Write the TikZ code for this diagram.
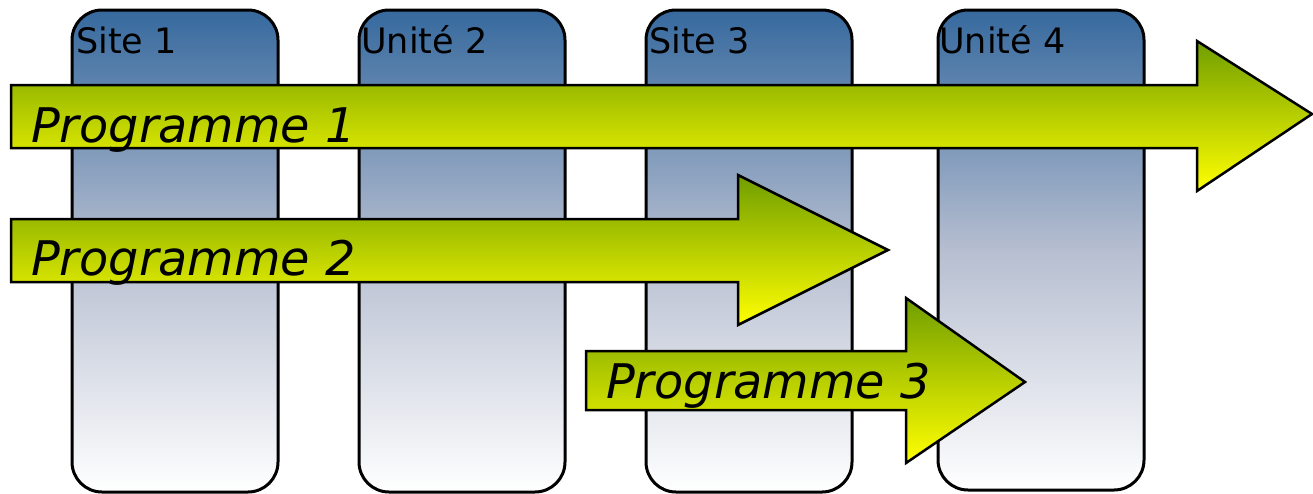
\documentclass[tikz,border=0pt]{standalone}
\usepackage{fontspec}
\setmainfont{DejaVu Sans}
\definecolor{colTop}{RGB}{54,105,158}
\definecolor{colMid}{RGB}{182,190,208}
\definecolor{arrTop}{RGB}{112,158,0}
\definecolor{arrBot}{RGB}{255,255,0}
\tikzset{
  column/.style={draw=black, line width=3pt, rounded corners=30pt,
    top color=colTop, bottom color=white, middle color=colMid},
  progarrow/.style={draw=black, line width=2.5pt, line join=miter,
    top color=arrTop, bottom color=arrBot},
  collabel/.style={anchor=base west, inner sep=0pt, font=\fontsize{35}{40}\selectfont},
  proglabel/.style={anchor=base west, inner sep=0pt, font=\fontsize{47.7}{54}\selectfont\itshape},
}
\begin{document}
\begin{tikzpicture}[x=1pt,y=-1pt]
\useasboundingbox (0,0) rectangle (1313,493);
% columns
\path[column] (72,10) rectangle (278,492);
\path[column] (359,10) rectangle (565,492);
\path[column] (646,10) rectangle (852,492);
\path[column] (938,10) rectangle (1144,490);
\node[collabel] (l1) at (76,53) {Site 1};
\node[collabel] (l2) at (361,53) {Unité 2};
\node[collabel] (l3) at (649,53) {Site 3};
\node[collabel] (l4) at (939,53) {Unité 4};
% arrows
\path[progarrow] (11,85) -- (1197,85) -- (1197,41) -- (1312,114) -- (1197,191) -- (1197,148) -- (11,148) -- cycle;
\path[progarrow] (11,219) -- (738,219) -- (738,175) -- (888,250) -- (738,325) -- (738,282) -- (11,282) -- cycle;
\path[progarrow] (586,351) -- (906,351) -- (906,298) -- (1025,382) -- (906,463) -- (906,410) -- (586,410) -- cycle;
\node[proglabel] (p1) at (31,142) {Programme 1};
\node[proglabel] (p2) at (31,275) {Programme 2};
\node[proglabel] (p3) at (606,398) {Programme 3};
\end{tikzpicture}
\end{document}
